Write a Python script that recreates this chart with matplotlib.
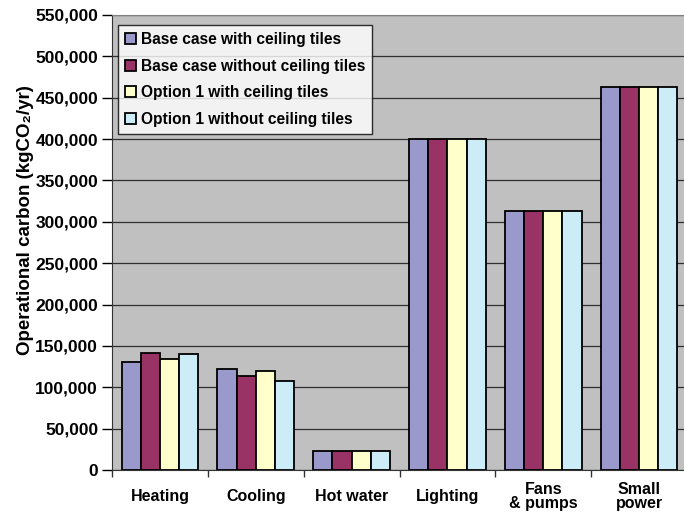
import numpy as np
import matplotlib.pyplot as plt
from matplotlib.ticker import FuncFormatter, FixedLocator

plt.rcParams['font.family'] = ['Liberation Sans', 'DejaVu Sans']
plt.rcParams['font.weight'] = 'bold'

categories = ["Heating", "Cooling", "Hot water", "Lighting", "Fans\n& pumps", "Small\npower"]
series_names = ["Base case with ceiling tiles", "Base case without ceiling tiles",
                "Option 1 with ceiling tiles", "Option 1 without ceiling tiles"]
base_tiles = [131000, 122000, 23000, 400000, 313000, 463000]
base_no_tiles = [142000, 114000, 23000, 400000, 313000, 463000]
opt1_tiles = [134000, 120000, 23000, 400000, 313000, 463000]
opt1_no_tiles = [140000, 108000, 23000, 400000, 313000, 463000]
series = [base_tiles, base_no_tiles, opt1_tiles, opt1_no_tiles]
colors = ["#9999cc", "#993366", "#ffffcc", "#ccecf7"]

fig = plt.figure(figsize=(6.84, 5.13), dpi=100)
ax = fig.add_axes([112 / 684, 43 / 513, 575 / 684, 455 / 513])
ax.set_facecolor("#c0c0c0")

x = np.arange(len(categories))
w = 0.2
for i, (vals, name, c) in enumerate(zip(series, series_names, colors)):
    ax.bar(x + (i - 1.5) * w, vals, width=w, color=c, edgecolor="black",
           linewidth=1.3, label=name, zorder=3)

ax.set_xlim(-0.5, len(categories) - 0.5)
ax.set_ylim(0, 550000)
ax.set_yticks(np.arange(0, 550001, 50000))
ax.yaxis.set_major_formatter(FuncFormatter(lambda v, p: f"{int(v):,}"))
ax.yaxis.grid(True, color="#303030", linewidth=0.9, zorder=1)

# category names sit centred below each group, boundary ticks between groups
ax.set_xticks(x)
ax.set_xticklabels(categories, fontsize=11.5, linespacing=0.95)
for lbl in ax.get_xticklabels():
    lbl.set_verticalalignment("center")
ax.xaxis.set_minor_locator(FixedLocator(np.arange(-0.5, len(categories), 1.0)))
ax.tick_params(axis="x", which="major", length=0, pad=19)
ax.tick_params(axis="x", which="minor", length=5, width=1, color="#333333")
ax.tick_params(axis="y", length=7, width=1, labelsize=12.5, pad=3)

for s in ["top", "right"]:
    ax.spines[s].set_color("#808080")
ax.spines["left"].set_color("#333333")
ax.spines["bottom"].set_color("#333333")

ax.set_ylabel("Operational carbon (kgCO\u2082/yr)", fontsize=13.5, fontweight="bold")
ax.yaxis.set_label_coords(-0.136, 0.55)

leg = ax.legend(loc="upper left", bbox_to_anchor=(0.01, 0.978), fontsize=11.2,
                frameon=True, fancybox=False, edgecolor="black",
                handlelength=0.7, handleheight=0.7, handletextpad=0.35,
                labelspacing=0.75, borderpad=0.45, borderaxespad=0)
leg.get_frame().set_linewidth(1.0)
leg.set_zorder(5)

fig.savefig("out.png", dpi=100)
